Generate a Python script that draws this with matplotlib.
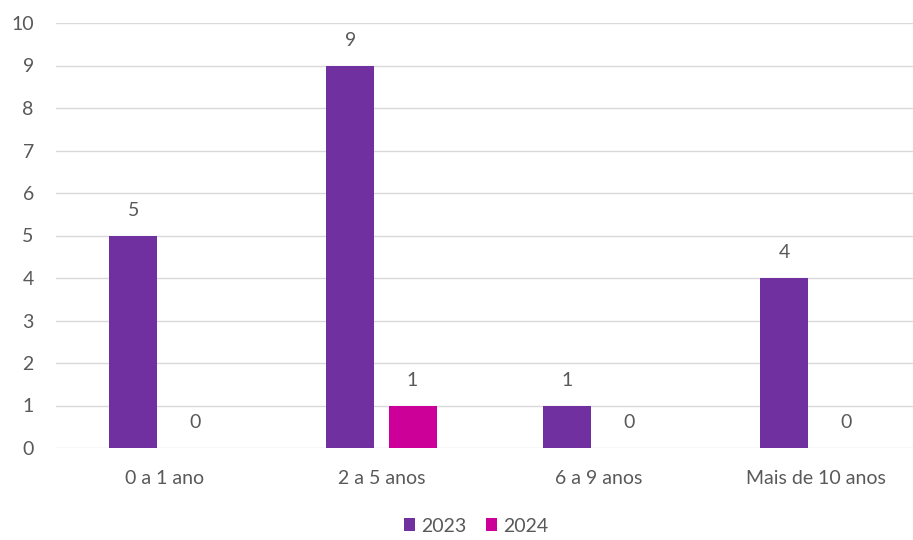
#!/usr/bin/env python3
"""Grouped bar chart: counts per time range, 2023 vs 2024."""

import matplotlib
matplotlib.use("Agg")
import matplotlib.pyplot as plt
import numpy as np

categories = ["0 a 1 ano", "2 a 5 anos", "6 a 9 anos", "Mais de 10 anos"]
values_2023 = [5, 9, 1, 4]
values_2024 = [0, 1, 0, 0]
series_names = ["2023", "2024"]
yticks = list(range(0, 11))

TEXT = "#595959"
COLORS = ["#7030A0", "#CC0099"]
FS = 14

plt.rcParams["font.family"] = ["Lato", "DejaVu Sans"]

fig = plt.figure(figsize=(9.13, 5.4), dpi=100)
ax = fig.add_axes([56 / 913, 92 / 540, 868 / 913, 425 / 540])

x = np.arange(len(categories))
width = 0.221
offset = 0.143
for i, (vals, name) in enumerate(zip([values_2023, values_2024], series_names)):
    pos = x + (i * 2 - 1) * offset
    bars = ax.bar(pos, vals, width, color=COLORS[i], label=name, zorder=3)
    for b, v in zip(bars, vals):
        ax.annotate(f"{v}", (b.get_x() + b.get_width() / 2, v),
                    xytext=(0, 18), textcoords="offset points",
                    ha="center", va="center", fontsize=FS, color=TEXT)

ax.set_xlim(-0.5, len(categories) - 0.5)
ax.set_ylim(0, 10)
ax.set_yticks(yticks)
ax.set_xticks(x)
ax.set_xticklabels(categories)
ax.grid(axis="y", color="#D9D9D9", linewidth=1.0, zorder=0)
for s in ax.spines.values():
    s.set_visible(False)
ax.tick_params(axis="both", length=0, labelsize=FS, labelcolor=TEXT)
ax.tick_params(axis="y", pad=16)
ax.tick_params(axis="x", pad=16)

fig.legend(loc="center", bbox_to_anchor=(476 / 913, 1 - 526 / 540), ncol=2,
           frameon=False, fontsize=FS, labelcolor=TEXT, handlelength=0.6,
           handleheight=0.6, handletextpad=0.3, columnspacing=1.0)

fig.savefig("out.png", dpi=100)
